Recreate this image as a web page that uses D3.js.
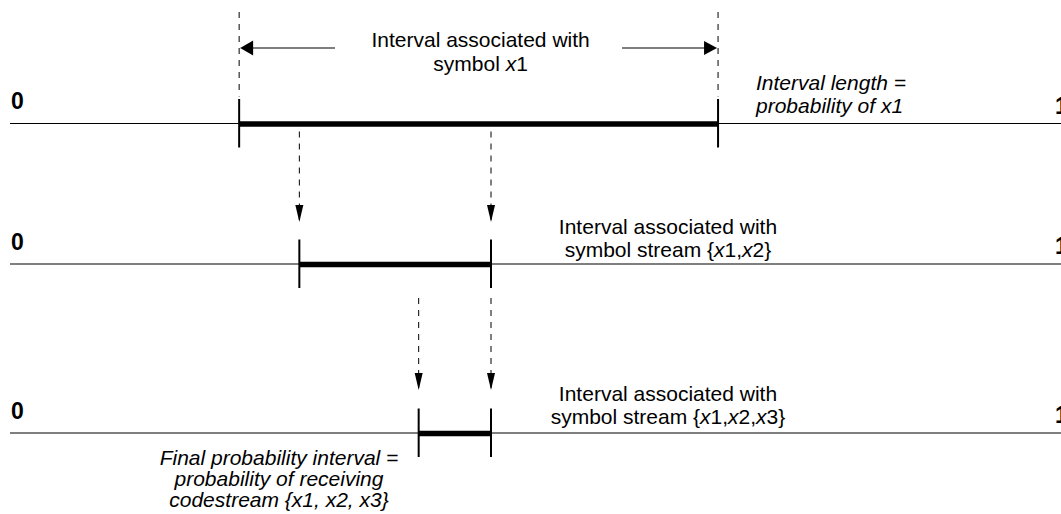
<!DOCTYPE html>
<html>
<head>
<meta charset="utf-8">
<script src="https://cdn.jsdelivr.net/npm/d3@7/dist/d3.min.js"></script>
<style>
  html, body { margin: 0; padding: 0; background: #fff; }
  svg { display: block; }
  text { font-family: "Liberation Sans", Arial, Helvetica, sans-serif; fill: #000; }
</style>
</head>
<body>
<svg id="chart" width="1061" height="514"></svg>
<script>
// ---- data ----
const rowNames = ["x1", "x1,x2", "x1,x2,x3"];
const intervalStart = [0.217, 0.274, 0.387];
const intervalEnd = [0.6705, 0.4555, 0.4555];
const endLabels = ["0", "1"];

// ---- layout ----
const W = 1061, H = 514;
const svg = d3.select("#chart");
const x = d3.scaleLinear().domain([0, 1]).range([10, 1066]);
const rowY = d3.scaleOrdinal().domain(rowNames).range([123.5, 264, 433]);
const FS = 21;

const rows = rowNames.map((n, i) => ({ name: n, a: intervalStart[i], b: intervalEnd[i], y: rowY(n) }));

// baseline lines
svg.selectAll("line.base").data(rows).join("line")
  .attr("x1", x(0)).attr("x2", W + 5)
  .attr("y1", d => d.y).attr("y2", d => d.y)
  .attr("stroke", "#000").attr("stroke-width", 1.2);

// thick intervals
svg.selectAll("line.thick").data(rows).join("line")
  .attr("x1", d => x(d.a)).attr("x2", d => x(d.b))
  .attr("y1", d => d.y + 0.5).attr("y2", d => d.y + 0.5)
  .attr("stroke", "#000").attr("stroke-width", 5.5);

// ticks at interval ends
rows.forEach(d => {
  [d.a, d.b].forEach(v => {
    svg.append("line")
      .attr("x1", x(v)).attr("x2", x(v))
      .attr("y1", d.y - 24.5).attr("y2", d.y + 24)
      .attr("stroke", "#000").attr("stroke-width", 2);
  });
});

// 0 / 1 labels
rows.forEach(d => {
  svg.append("text").attr("x", x(0) + 1).attr("y", d.y - 14.5)
    .attr("font-size", 23).attr("font-weight", "bold").text(endLabels[0]);
  svg.append("text").attr("x", x(1) - 11).attr("y", d.y - 10)
    .attr("font-size", 23).attr("font-weight", "bold").text(endLabels[1]);
});

const dash = "6,6";
function vdash(xv, y1, y2) {
  svg.append("line").attr("x1", xv).attr("x2", xv).attr("y1", y1).attr("y2", y2)
    .attr("stroke", "#000").attr("stroke-width", 1).attr("stroke-dasharray", dash);
}
function downArrow(xv, tipY) {
  svg.append("path")
    .attr("d", `M${xv - 4},${tipY - 17} L${xv + 4},${tipY - 17} L${xv},${tipY} Z`)
    .attr("fill", "#000");
}

// row 1 : dashed guides above and horizontal arrows
const r0 = rows[0];
vdash(x(r0.a), 12, r0.y - 27);
vdash(x(r0.b), 12, r0.y - 27);
const arrowY = 48;
svg.append("line").attr("x1", x(r0.a) + 12).attr("x2", 335).attr("y1", arrowY).attr("y2", arrowY)
  .attr("stroke", "#000").attr("stroke-width", 1.2);
svg.append("path").attr("d", `M${x(r0.a) + 1},${arrowY} L${x(r0.a) + 14},${arrowY - 7.5} L${x(r0.a) + 14},${arrowY + 7.5} Z`).attr("fill", "#000");
svg.append("line").attr("x1", 622).attr("x2", x(r0.b) - 12).attr("y1", arrowY).attr("y2", arrowY)
  .attr("stroke", "#000").attr("stroke-width", 1.2);
svg.append("path").attr("d", `M${x(r0.b) - 1},${arrowY} L${x(r0.b) - 14},${arrowY - 7} L${x(r0.b) - 14},${arrowY + 7} Z`).attr("fill", "#000");

// dashed arrows from row 1 to row 2, and row 2 to row 3
const r1 = rows[1], r2 = rows[2];
[r1.a, r1.b].forEach(v => { vdash(x(v), r0.y + 8, r1.y - 44); downArrow(x(v), r1.y - 42); });
[r2.a, r2.b].forEach(v => { vdash(x(v), 298, r2.y - 45); downArrow(x(v), r2.y - 43); });

// ---- text ----
function multi(xp, y0, lh, lines, anchor, italic) {
  const t = svg.append("text").attr("x", xp).attr("y", y0)
    .attr("font-size", FS).attr("text-anchor", anchor)
    .attr("font-style", italic ? "italic" : "normal");
  lines.forEach((parts, i) => {
    parts.forEach((p, j) => {
      const ts = t.append("tspan").text(p.t);
      if (j === 0) ts.attr("x", xp).attr("dy", i === 0 ? 0 : lh);
      if (p.i) ts.attr("font-style", "italic");
    });
  });
}
const P = (t, i) => ({ t, i: !!i });

multi((x(r0.a) + x(r0.b)) / 2 + 2, 47, 24,
  [[P("Interval associated with")], [P("symbol "), P("x", 1), P("1")]], "middle", false);

multi(756, 90, 23, [[P("Interval length =")], [P("probability of x1")]], "start", true);

multi(668, 234, 23,
  [[P("Interval associated with")],
   [P("symbol stream {"), P("x", 1), P("1,"), P("x", 1), P("2}")]], "middle", false);

multi(668, 401, 23,
  [[P("Interval associated with")],
   [P("symbol stream {"), P("x", 1), P("1,"), P("x", 1), P("2,"), P("x", 1), P("3}")]], "middle", false);

multi(279, 465, 21,
  [[P("Final probability interval =")], [P("probability of receiving")], [P("codestream {x1, x2, x3}")]],
  "middle", true);
</script>
</body>
</html>
